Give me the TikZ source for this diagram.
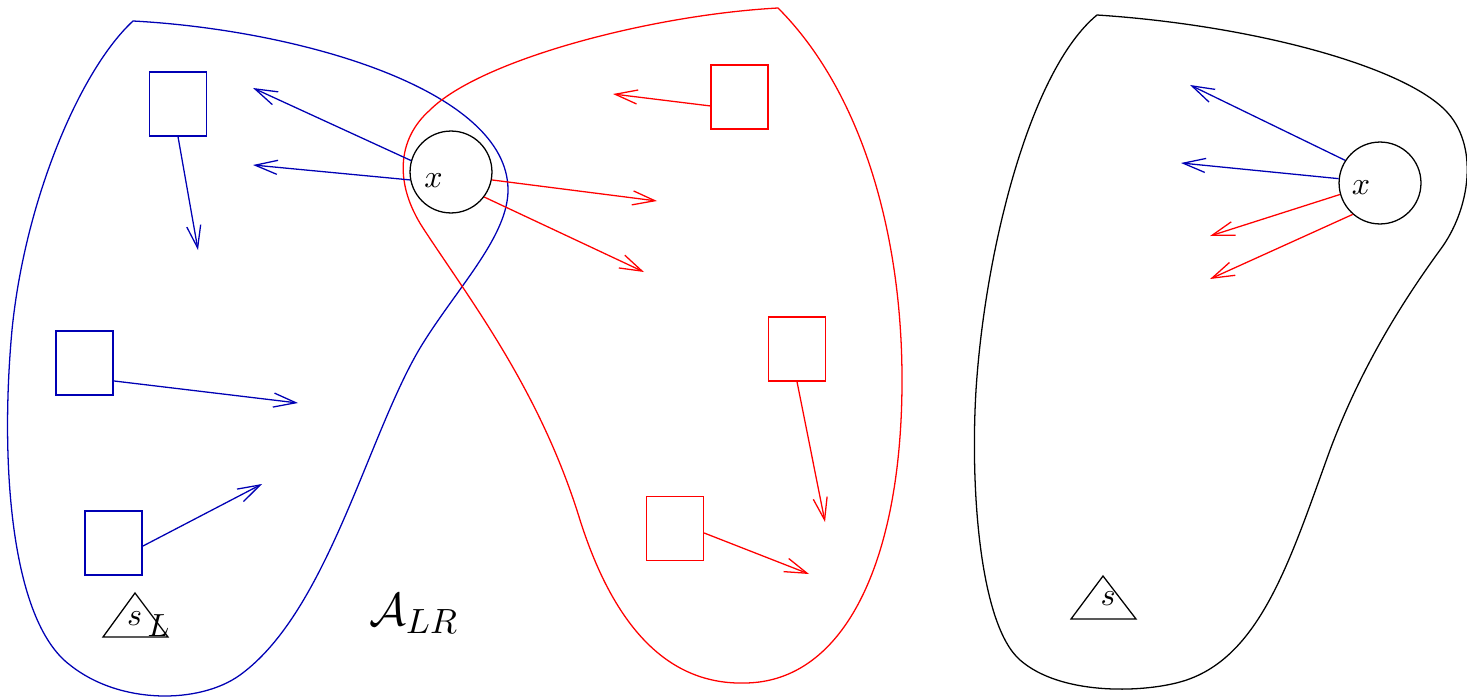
\documentclass[tikz,border=0pt]{standalone}
\usetikzlibrary{arrows.meta}
\definecolor{dblue}{RGB}{0,0,180}
\definecolor{dred}{RGB}{255,0,0}
\tikzset{
  box/.style={draw, rectangle, minimum width=17.8pt, minimum height=20pt, inner sep=0pt},
  vertex/.style={draw, circle, minimum size=25.6pt, inner sep=0pt},
  barrow/.style={-{Straight Barb[length=7pt,width=4.4pt]}},
  region/.style={line join=miter},
  lbl/.style={anchor=base, inner sep=0pt},
}
\begin{document}
\begin{tikzpicture}[x=0.3125pt, y=-0.3125pt]
\useasboundingbox (0,0) rectangle (1467,699);

% ---- left pair of regions ----
\draw[dblue, region] (133,21)
  .. controls (300,30) and (508,90) .. (508,190)
  .. controls (508,235) and (460,285) .. (425,340)
  .. controls (370,425) and (330,610) .. (240,675)
  .. controls (200,704) and (120,705) .. (70,665)
  .. controls (10,620) and (0,460) .. (12,330)
  .. controls (25,200) and (80,70) .. (133,21) -- cycle;
\draw[dred, region] (778,8)
  .. controls (650,15) and (480,60) .. (430,110)
  .. controls (396,140) and (395,185) .. (423,228)
  .. controls (470,300) and (540,390) .. (580,520)
  .. controls (615,630) and (670,685) .. (745,683)
  .. controls (845,682) and (902,560) .. (902,380)
  .. controls (902,230) and (860,90) .. (778,8) -- cycle;

% nodes of the left picture
\node[vertex] (x1) at (451,172) {};
\node[lbl] (x1lbl) at (433.5,187) {$x$};

\node[box, dblue] (b1) at (178,104) {};
\node[box, dblue] (b2) at (84.5,363) {};
\node[box, dblue] (b3) at (113.5,543) {};
\node[box, dred] (r1) at (739.5,97) {};
\node[box, dred] (r2) at (797,349) {};
\node[box, dred] (r3) at (675,528.5) {};

\coordinate (tb1) at (198,250);
\coordinate (tb2) at (298,403);
\coordinate (tb3) at (262,484);
\coordinate (tr1) at (613,94);
\coordinate (tr2) at (825,522);
\coordinate (tr3) at (809,574);
\coordinate (tx1) at (253,88);
\coordinate (tx2) at (253,165);
\coordinate (tx3) at (657,201);
\coordinate (tx4) at (644,272);

\draw[dblue, barrow] (b1.south) -- (tb1);
\draw[dblue, barrow] ([yshift=-5.6pt]b2.east) -- (tb2);
\draw[dblue, barrow] ([yshift=-1pt]b3.east) -- (tb3);
\draw[dred, barrow] ([yshift=-2.8pt]r1.west) -- (tr1);
\draw[dred, barrow] (r2.south) -- (tr2);
\draw[dred, barrow] ([yshift=-1.4pt]r3.east) -- (tr3);

\draw[dblue, barrow] (x1.164) -- (tx1);
\draw[dblue, barrow] (x1.191) -- (tx2);
\draw[dred, barrow] (x1.349) -- (tx3);
\draw[dred, barrow] (x1.323) -- (tx4);

% source triangle and labels
\coordinate (sl1) at (103,637);
\coordinate (sl2) at (135,593);
\coordinate (sl3) at (168,637);
\draw[line join=miter] (sl1) -- (sl2) -- (sl3) -- cycle;
\node[lbl] (sL) at (134.5,625) {$s$};
\node[anchor=base west, inner sep=0pt] (Lsub) at (147,636) {$L$};
\node[lbl] (alr) at (414,625) {\fontsize{15}{17}\selectfont$\mathcal{A}_{LR}$};

% ---- right picture ----
\draw[region] (1097,15)
  .. controls (1250,25) and (1400,65) .. (1445,110)
  .. controls (1480,145) and (1470,210) .. (1440,250)
  .. controls (1400,305) and (1360,370) .. (1330,450)
  .. controls (1290,560) and (1260,660) .. (1180,682)
  .. controls (1140,693) and (1060,695) .. (1020,660)
  .. controls (980,625) and (970,490) .. (976,390)
  .. controls (985,250) and (1030,70) .. (1097,15) -- cycle;

\node[vertex] (x2) at (1380,183) {};
\node[lbl] (x2lbl) at (1361,194) {$x$};

\coordinate (ty1) at (1190,85);
\coordinate (ty2) at (1181,163);
\coordinate (ty3) at (1210,236);
\coordinate (ty4) at (1210,279);
\draw[dblue, barrow] (x2.147) -- (ty1);
\draw[dblue, barrow] (x2.174) -- (ty2);
\draw[dred, barrow] (x2.196) -- (ty3);
\draw[dred, barrow] (x2.229) -- (ty4);

\coordinate (s1) at (1071,619);
\coordinate (s2) at (1103,576);
\coordinate (s3) at (1136,619);
\draw[line join=miter] (s1) -- (s2) -- (s3) -- cycle;
\node[lbl] (s) at (1108,605) {$s$};
\end{tikzpicture}
\end{document}
